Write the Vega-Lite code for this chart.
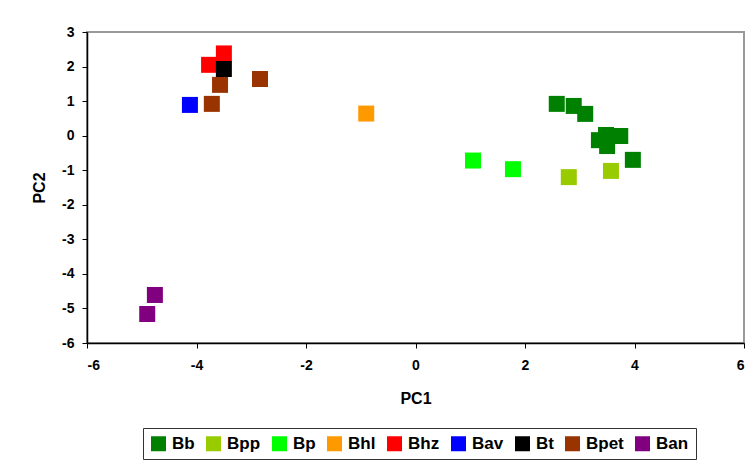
{
  "$schema": "https://vega.github.io/schema/vega-lite/v6.json",
  "width": 657,
  "height": 311,
  "autosize": {"type": "none"},
  "padding": {"left": 87, "top": 32, "right": 11, "bottom": 122},
  "background": "white",
  "config": {
    "font": "Liberation Sans",
    "view": {"stroke": "#999999", "strokeWidth": 2},
    "axis": {
      "labelFont": "Liberation Sans",
      "labelFontWeight": "bold",
      "labelFontSize": 14,
      "labelColor": "black",
      "titleFont": "Liberation Sans",
      "titleFontWeight": "bold",
      "titleFontSize": 16,
      "titleColor": "black",
      "domainColor": "black",
      "domainWidth": 1.5,
      "tickColor": "black",
      "tickSize": 5,
      "grid": false
    }
  },
  "data": {
    "values": [
      {"pc1": 2.58, "pc2": 0.92, "group": "Bb"},
      {"pc1": 2.89, "pc2": 0.86, "group": "Bb"},
      {"pc1": 3.10, "pc2": 0.63, "group": "Bb"},
      {"pc1": 3.35, "pc2": -0.13, "group": "Bb"},
      {"pc1": 3.48, "pc2": 0.02, "group": "Bb"},
      {"pc1": 3.74, "pc2": -0.01, "group": "Bb"},
      {"pc1": 3.50, "pc2": -0.30, "group": "Bb"},
      {"pc1": 3.97, "pc2": -0.70, "group": "Bb"},
      {"pc1": 2.80, "pc2": -1.20, "group": "Bpp"},
      {"pc1": 3.57, "pc2": -1.02, "group": "Bpp"},
      {"pc1": 1.05, "pc2": -0.72, "group": "Bp"},
      {"pc1": 1.78, "pc2": -0.97, "group": "Bp"},
      {"pc1": -0.90, "pc2": 0.64, "group": "Bhl"},
      {"pc1": -3.50, "pc2": 2.38, "group": "Bhz"},
      {"pc1": -3.77, "pc2": 2.05, "group": "Bhz"},
      {"pc1": -4.12, "pc2": 0.89, "group": "Bav"},
      {"pc1": -3.50, "pc2": 1.93, "group": "Bt"},
      {"pc1": -3.57, "pc2": 1.47, "group": "Bpet"},
      {"pc1": -2.84, "pc2": 1.64, "group": "Bpet"},
      {"pc1": -3.72, "pc2": 0.92, "group": "Bpet"},
      {"pc1": -4.76, "pc2": -4.61, "group": "Ban"},
      {"pc1": -4.90, "pc2": -5.16, "group": "Ban"}
    ]
  },
  "mark": {"type": "point", "shape": "square", "filled": true, "size": 256, "opacity": 1, "strokeWidth": 0},
  "encoding": {
    "x": {
      "field": "pc1", "type": "quantitative", "title": "PC1",
      "scale": {"domain": [-6, 6], "nice": false, "zero": false},
      "axis": {"values": [-6, -4, -2, 0, 2, 4, 6], "labelExpr": "'' + datum.value", "labelPadding": 10, "titlePadding": 18}
    },
    "y": {
      "field": "pc2", "type": "quantitative", "title": "PC2",
      "scale": {"domain": [-6, 3], "nice": false, "zero": false},
      "axis": {"values": [-6, -5, -4, -3, -2, -1, 0, 1, 2, 3], "labelExpr": "'' + datum.value", "labelPadding": 8, "titlePadding": 14}
    },
    "color": {
      "field": "group", "type": "nominal",
      "scale": {
        "domain": ["Bb", "Bpp", "Bp", "Bhl", "Bhz", "Bav", "Bt", "Bpet", "Ban"],
        "range": ["#008000", "#99CC00", "#00FF00", "#FF9900", "#FF0000", "#0000FF", "#000000", "#993300", "#800080"]
      },
      "legend": {
        "title": null,
        "orient": "none",
        "legendX": 56,
        "legendY": 396,
        "direction": "horizontal",
        "columns": 9,
        "symbolType": "square",
        "symbolSize": 225,
        "symbolStrokeWidth": 0,
        "symbolOpacity": 1,
        "labelFont": "Liberation Sans",
        "labelFontWeight": "bold",
        "labelFontSize": 17,
        "labelColor": "black",
        "labelOffset": 5,
        "columnPadding": 10,
        "strokeColor": "#333333",
        "padding": 7,
        "fillColor": "white"
      }
    },
    "order": {"field": "group"}
  }
}
